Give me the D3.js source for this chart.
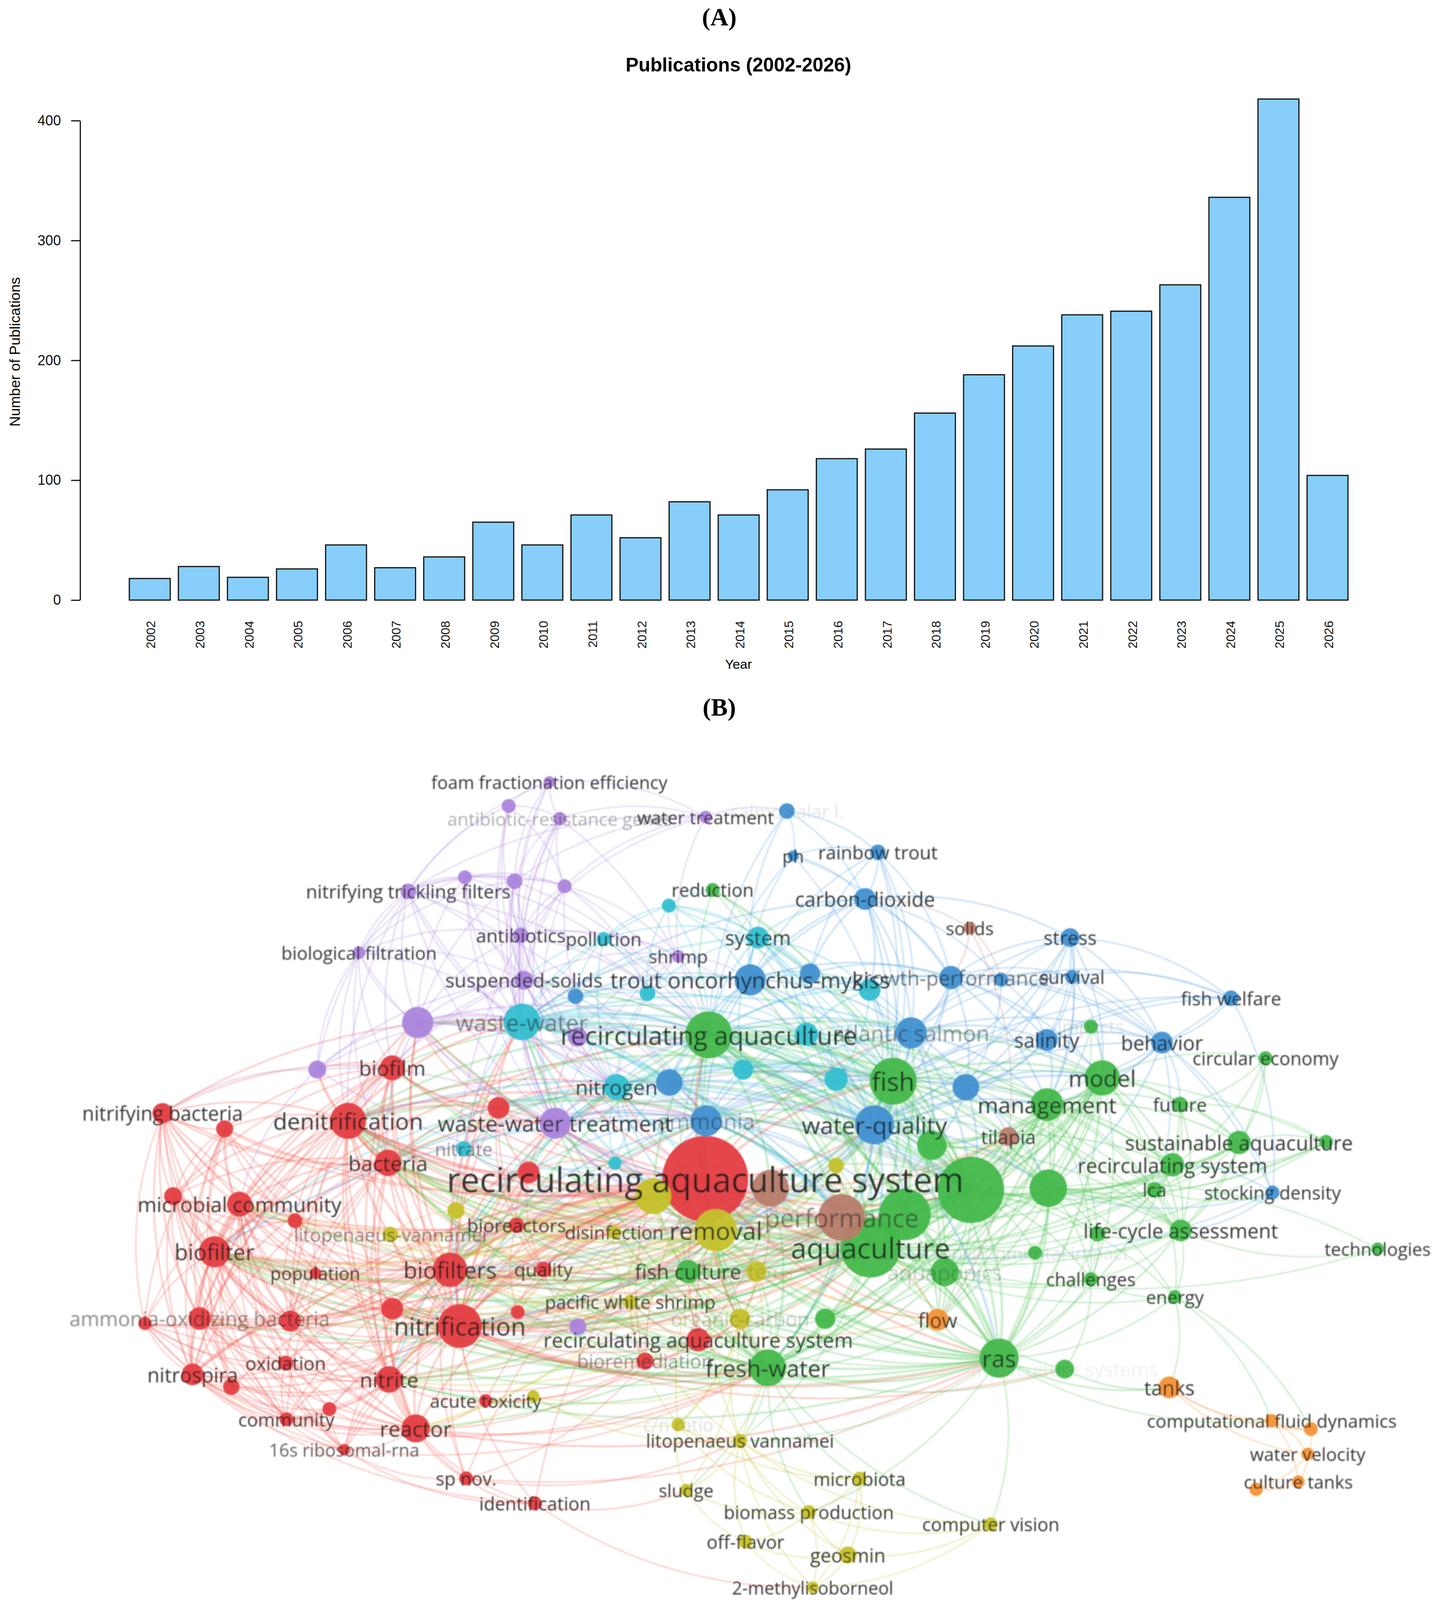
<!DOCTYPE html>
<html>
<head>
<meta charset="utf-8">
<script src="https://cdn.jsdelivr.net/npm/d3@7"></script>
<style>
	html, body { margin: 0; background: #fff; overflow: hidden; }
	svg { display: block; }
	.bar-axis text { font-family: "Liberation Sans", Arial, sans-serif; fill: #111; }
	.node-label { font-family: "Open Sans", sans-serif; fill: #1a1a1a; text-anchor: middle; dominant-baseline: central; }
</style>
</head>
<body>
<div id="chart"></div>
<script>
// panel A
var years = ["2002","2003","2004","2005","2006","2007","2008","2009","2010","2011","2012","2013","2014","2015","2016","2017","2018","2019","2020","2021","2022","2023","2024","2025","2026"];
var publications = [18,28,19,26,46,27,36,65,46,71,52,82,71,92,118,126,156,188,212,238,241,263,336,418,104];
var countTicks = [0,100,200,300,400];

// panel B: [id, label, map x, map y, occurrences]
var redNodes = [
	["rasys","recirculating aquaculture system",1805,3538,1210],
	["biofilm","biofilm",1004,3205,102],
	["nitbac","nitrifying bacteria",416,3341,68],
	["r1","",575,3388,48],
	["denit","denitrification",891,3364,212],
	["r2","",1276,3325,78],
	["bact","bacteria",993,3490,116],
	["r3","",1353,3519,78],
	["r4","",443,3590,53],
	["micro","microbial community",613,3614,102],
	["r5","",755,3664,36],
	["biofr","biofilter",549,3757,160],
	["bioreac","bioreactors",1322,3677,40],
	["popul","population",807,3821,22],
	["biofs","biofilters",1152,3811,194],
	["qual","quality",1391,3810,40],
	["r6","",1004,3928,78],
	["r7","",1325,3938,32],
	["nitrif","nitrification",1177,3980,314],
	["r8","",371,3972,29],
	["amox","ammonia-oxidizing bacteria",511,3957,84],
	["r9","",743,3965,73],
	["rasl","recirculating aquaculture system",1787,4021,90],
	["biorem","bioremediation",1651,4085,48],
	["oxid","oxidation",731,4091,36],
	["nspira","nitrospira",493,4125,78],
	["r10","",592,4162,44],
	["nitrite","nitrite",996,4140,116],
	["acute","acute toxicity",1243,4204,29],
	["r11","",843,4229,32],
	["commu","community",733,4260,32],
	["reactor","reactor",1064,4287,130],
	["rrna","16s ribosomal-rna",881,4351,22],
	["spnov","sp nov.",1193,4437,32],
	["ident","identification",1369,4512,32]
];
var purpleNodes = [
	["foam","foam fractionation efficiency",1406,2347,22],
	["p1","",1302,2419,32],
	["argenes","antibiotic-resistance genes",1433,2457,29],
	["wtreat","water treatment",1806,2452,26],
	["p2","",1190,2633,32],
	["p3","",1317,2645,40],
	["p4","",1445,2660,32],
	["ntf","nitrifying trickling filters",1045,2675,40],
	["antib","antibiotics",1333,2807,40],
	["biofilt","biological filtration",919,2859,26],
	["shrimp","shrimp",1736,2870,26],
	["ssol","suspended-solids",1341,2942,58],
	["p5","",1069,3069,160],
	["p6","",812,3210,53],
	["wwt","waste-water treatment",1421,3371,160],
	["p7","",1478,3112,62],
	["p8","",1479,3982,48]
];
var cyanNodes = [
	["ww","waste-water",1336,3067,221],
	["c1","",1712,2718,32],
	["pollu","pollution",1545,2818,32],
	["c2","",1657,2981,40],
	["nitro","nitrogen",1578,3262,109],
	["nitra","nitrate",1187,3448,40],
	["c3","",1574,3491,29],
	["syst","system",1940,2814,78],
	["c4","",2226,2971,78],
	["c5","",2064,3104,90],
	["c6","",1902,3210,68],
	["c7","",2140,3239,90]
];
var blueNodes = [
	["b1","",1473,2990,40],
	["b2","",1713,3249,116],
	["ammon","ammonia",1807,3364,160],
	["salar","salmo salar l.",2014,2434,40],
	["ph","ph",2030,2569,20],
	["rainb","rainbow trout",2247,2558,40],
	["co2","carbon-dioxide",2214,2698,78],
	["trout","trout oncorhynchus-mykiss",1920,2941,160],
	["b3","",2073,2922,68],
	["growth","growth-performance",2434,2934,90],
	["b4","",2562,2940,32],
	["surv","survival",2744,2932,32],
	["stress","stress",2739,2814,58],
	["welf","fish welfare",3151,2996,40],
	["atsal","atlantic salmon",2332,3100,160],
	["salin","salinity",2679,3121,78],
	["behav","behavior",2974,3129,78],
	["b5","",2472,3263,116],
	["wq","water-quality",2238,3376,250],
	["stock","stocking density",3257,3579,32]
];
var greenNodes = [
	["reduc","reduction",1824,2671,32],
	["rac","recirculating aquaculture",1814,3106,360],
	["fish","fish",2286,3245,360],
	["impacts","impacts",2792,3081,32],
	["model","model",2821,3235,202],
	["circ","circular economy",3239,3176,32],
	["mgmt","management",2680,3315,176],
	["future","future",3020,3315,40],
	["sust","sustainable aquaculture",3171,3429,90],
	["g1","",3394,3427,32],
	["recsys","recirculating system",3001,3496,90],
	["g2","",2385,3437,144],
	["g3","",2485,3571,722],
	["g4","",2683,3566,230],
	["lca","lca",2955,3571,40],
	["g5","",2316,3645,436],
	["aqua","aquaculture",2228,3744,593],
	["g8","",2809,3703,40],
	["lcaa","life-cycle assessment",3022,3693,78],
	["tech","technologies",3526,3748,26],
	["envi","environmental impact",2649,3760,32],
	["aquap","aquaponics",2418,3818,130],
	["chall","challenges",2792,3839,32],
	["energy","energy",3007,3892,29],
	["g6","",2112,3958,68],
	["rasn","ras",2557,4076,250],
	["g7","aquaculture systems",2725,4109,58],
	["fresh","fresh-water",1965,4105,221],
	["fculture","fish culture",1761,3816,90]
];
var yellowNodes = [
	["removal","removal",1832,3692,292],
	["y1","",1672,3590,212],
	["y2","",2140,3498,40],
	["y3","",1167,3633,48],
	["litov","litopenaeus-vannamei",999,3705,40],
	["disinf","disinfection",1572,3699,32],
	["pws","pacific white shrimp",1613,3907,32],
	["y4","systems",1936,3816,68],
	["orgc","organic-carbon",1894,3958,68],
	["y5","",1365,4191,26],
	["cn","c/n ratio",1736,4276,29],
	["litv","litopenaeus vannamei",1894,4324,32],
	["microb","microbiota",2200,4438,32],
	["sludge","sludge",1756,4472,26],
	["biomass","biomass production",2070,4538,32],
	["compv","computer vision",2536,4575,32],
	["off","off-flavor",1908,4627,32],
	["geos","geosmin",2170,4667,48],
	["mib","2-methylisoborneol",2080,4764,22]
];
var orangeNodes = [
	["flow","flow",2400,3961,78],
	["tanks","tanks",2993,4164,78],
	["cfd","computational fluid dynamics",3255,4264,29],
	["o1","",3355,4289,32],
	["wvel","water velocity",3347,4364,26],
	["ctanks","culture tanks",3323,4447,26],
	["o2","",3215,4470,29]
];
var brownNodes = [
	["solids","solids",2482,2785,26],
	["tilap","tilapia",2581,3411,58],
	["perf","performance",2154,3654,360],
	["br1","",1972,3566,221]
];

var clusterColors = {red:"#e43d42",purple:"#ab84dc",cyan:"#34bfd0",blue:"#4190d0",green:"#43b84b",yellow:"#c5c22c",orange:"#f39237",brown:"#b87c6c"};
var linkColors = {red:"#f0564c",purple:"#ab84dc",cyan:"#34bfd0",blue:"#4a9ade",green:"#4cc254",yellow:"#c5c22c",orange:"#f39237",brown:"#b87c6c"};

var redLinks = {
	rasys:"nitrif biofs denit bact biofr micro biofilm nitrite reactor amox nspira oxid qual bioreac popul r2 r3 r6 r7 r9 rasl biorem acute commu rrna spnov ident r4 r5 r1 nitbac r10 r11 r8 aqua fish removal perf wq rac g3 g5 rasn fresh ww nitro ammon y1 wwt p5 tilap flow atsal",
	nitrif:"biofs denit bact biofr micro biofilm nitrite reactor amox nspira oxid qual bioreac popul r2 r3 r6 r7 r9 r4 r5 r1 r8 nitbac r10 r11 commu rrna spnov acute ident biorem rasl removal y1 aqua wwt p5 ww ammon nitro g5 perf br1 fresh rasn pws y3 litov g7",
	biofs:"denit bact biofr micro biofilm nitrite reactor amox nspira oxid qual bioreac popul r6 r9 r5 r1 nitbac r4 r8 commu rrna spnov ww p5 wwt removal perf aqua",
	denit:"bact biofr micro biofilm nitrite reactor amox nspira nitbac r1 r2 r3 r4 r5 r6 r9 p5 p6 wwt ww nitro ammon nitra removal y1 y3 br1 bioreac qual popul",
	bact:"biofr micro biofilm nitrite reactor amox nspira nitbac r1 r2 r4 r5 r9 oxid commu p6 wwt",
	biofr:"micro biofilm nitrite reactor amox nspira nitbac r1 r4 r5 r6 r8 r9 r10 oxid commu popul rrna rac",
	micro:"biofilm nitrite reactor amox nspira nitbac r1 r4 r5 r6 r8 r9 r10 oxid commu rrna r11",
	biofilm:"nitrite amox nspira nitbac r1 r2 p5 p6 ww wwt r4 reactor r9",
	nitrite:"reactor amox nspira oxid commu rrna r6 r9 r10 r11 r8 acute spnov",
	amox:"nspira oxid commu rrna r1 r4 r8 r9 r10 nitbac r6 reactor",
	nspira:"oxid commu rrna r1 r4 r8 r9 r10 nitbac r11 reactor ident",
	reactor:"rrna commu oxid spnov ident r9 r6 acute r11 r10 rasn fresh",
	nitbac:"r1 r4 r8 r9 r5 ww commu rrna",
	r1:"r4 r5 r9 r8 r10",
	r2:"r3 wwt nitra ww y3 p5 nitro",
	r3:"nitra wwt y3 c3",
	r4:"oxid commu nitrite r9",
	r5:"r4 r9 popul",
	r6:"r7 r9 qual",
	r8:"nitrite oxid commu reactor rrna",
	r9:"popul",
	popul:"r4",
	qual:"r2 r3 bioreac disinf y1 r7",
	bioreac:"r2 r3 r6 r7 disinf popul y3",
	commu:"rrna r11 oxid r10 fresh",
	rrna:"spnov r11 oxid ident fresh",
	spnov:"ident biorem litv rasn",
	ident:"sludge mib",
	acute:"y5 biorem rasl",
	biorem:"y1 fresh orgc pws r6 reactor nitrite",
	rasl:"biorem pws removal aqua fresh orgc"
};
var purpleLinks = {
	foam:"argenes p1 p3 wtreat ntf antib ssol",
	p1:"ssol antib p4 ntf ww",
	argenes:"p1 p3 p4 wtreat antib ssol ww wwt rac",
	wtreat:"p3 p4 salar shrimp ntf antib",
	p2:"p3 ntf p4 biofilt ssol ww wwt p5 rac",
	p3:"p4 ntf antib ssol biofilt ww wwt p5 rac nitro",
	p4:"antib ssol ntf shrimp ww wwt rac nitro c2",
	ntf:"biofilt antib ssol p5 p6 ww wwt rac ammon nitro biofilm denit",
	antib:"shrimp ssol p5 ww p7 biofilt pollu wwt nitro rac nitrif",
	biofilt:"ssol p5 p6 denit biofilm wwt ww bact",
	shrimp:"ssol c1 pollu p7 trout ww wwt nitro rac wq",
	ssol:"p5 ww wwt p7 b1 nitro rac ammon denit biofilm nitrif rasys",
	p5:"ww wwt p6 p7 biofilm nitro rac ammon wq rasys denit nitrif biofs bact r2",
	p6:"wwt biofilm ww ssol rasys bact micro nitbac denit",
	wwt:"ww p7 nitro ammon rac fish removal aqua nitra perf y1 br1 wq g3",
	p7:"rac ww nitro",
	p8:"pws biofs rasl qual nitrif removal"
};
var cyanLinks = {
	ww:"rac fish aqua removal ammon nitro nitra wq b1 b2 c2 c3 c5 c6 c7 trout atsal pollu syst g3 perf",
	c1:"pollu syst c2 reduc trout shrimp b3 ww rac fish",
	pollu:"c2 ssol syst b1 ww rac nitro",
	c2:"syst trout ww rac c5 nitro",
	nitro:"ammon b2 nitra c3 c6 c7 rac fish removal aqua wq y1 g3 perf br1 biofs bact denit biofr nitrite r2 r3 ssol b1 c2 antib",
	nitra:"c3 removal y1 ammon",
	c3:"removal ammon b2",
	syst:"trout b3 co2 c4 c5 c6 c7 rac fish wq",
	c4:"trout b3 atsal growth c5 c7 rac fish",
	c5:"trout atsal c6 c7 rac fish b2 b5",
	c6:"c7 ammon rac fish wq b2",
	c7:"fish wq atsal rac aqua g3 g2"
};
var blueLinks = {
	b1:"trout ssol ww c2",
	b2:"ammon trout fish wq rac aqua",
	ammon:"wq fish rac aqua removal y1 y2 perf g3 g5 atsal denit bact biofs biofr nitrite r2 r3 ssol c6 c5 c7 b5 b1 trout",
	salar:"ph rainb wtreat co2 trout rac",
	ph:"rainb co2 trout rac fish growth",
	rainb:"co2 trout growth b3 wq atsal fish",
	co2:"trout b3 growth b4 atsal c4 wq stress rac fish ww",
	trout:"b3 atsal growth c4 wq fish rac",
	b3:"atsal growth",
	growth:"b4 surv stress atsal salin behav b5 fish wq rac mgmt model",
	b4:"surv stress atsal salin behav welf b5",
	surv:"stress salin behav welf atsal stock fish model mgmt",
	stress:"behav salin atsal fish wq model b5 mgmt",
	welf:"behav stock salin b5 fish wq stress",
	atsal:"salin behav b5 fish wq rac g3 g2 mgmt model",
	salin:"behav b5 model mgmt fish wq",
	behav:"model mgmt future lca stock wq g4",
	b5:"fish wq mgmt model g2 g3 g4 tilap",
	wq:"fish g2 g3 g5 aqua perf removal rac mgmt model tilap y2 g4 rasn fresh nitro ammon ww wwt trout atsal c7 c6 c5 c4 syst biofs denit nitrif",
	stock:"recsys lcaa aqua g4"
};
var greenLinks = {
	reduc:"rac syst fish aqua g3",
	rac:"fish aqua g3 g2 g4 g5 mgmt model removal perf rasn fresh y1 y2 br1 aquap lca tilap nitro ammon ww wwt p5 ssol trout syst c1 c2 c5 c6 c7 b1 b2 denit biofilm bact nitrif biofs atsal co2",
	fish:"aqua g2 g3 g4 g5 mgmt model perf removal rasn fresh aquap y2 tilap flow nitrif biofs denit bact trout atsal ammon nitro b2 c5 c6 c7 c4 syst y1",
	impacts:"model mgmt g4 salin",
	model:"mgmt g2 g3 g4 g5 aqua future lca lcaa rasn recsys sust chall tilap circ fresh perf flow aquap g6",
	circ:"lcaa sust future recsys",
	mgmt:"g2 g3 g4 g5 aqua future lca lcaa sust recsys rasn tilap g8 chall removal rac perf fresh flow aquap g6",
	future:"sust recsys lcaa lca g1",
	sust:"g1 recsys lca lcaa aqua g3 g4",
	g1:"recsys g3 g4 aqua fish",
	recsys:"lca lcaa g4 g3 aqua g8 rasn fish rac g2 g5",
	g2:"g3 g4 g5 aqua perf tilap",
	g3:"g4 g5 aqua perf lca lcaa g8 envi aquap chall energy rasn fresh flow g6 fculture biofs nitrif denit bact biofr qual r2 r3 trout atsal ssol syst reduc ammon nitro c7 c6 c5 b2 b5 removal y1 y2 wwt ww p5 br1",
	g4:"g5 aqua lca lcaa g8 envi aquap chall energy rasn tech tilap",
	lca:"lcaa g8 aqua stock energy",
	g5:"aqua perf aquap rasn fresh g6 fculture removal flow envi tilap",
	aqua:"perf removal aquap lcaa g8 envi chall energy tech rasn fresh g6 fculture flow y4 orgc y2 br1 g7 litv nitrif biofs denit bact biofr rasl r6 qual bioreac amox nitrite reactor micro biofilm p5 wwt ww nitro ammon trout atsal tilap y1",
	g8:"lcaa rasn chall",
	lcaa:"envi chall energy rasn tech fish rac g2 stock",
	envi:"aquap rasn",
	aquap:"rasn fresh flow g6 chall",
	chall:"rasn g7 energy",
	energy:"rasn tanks cfd o1",
	g6:"rasn fresh fculture orgc",
	rasn:"fresh fculture flow g7 tanks compv biomass litv cfd biofs denit biofr nitrite r6 y1 perf removal ammon pws orgc y4 br1",
	g7:"fresh tanks",
	fresh:"fculture removal perf br1 litv microb biomass sludge orgc y4 flow compv nitrif biofs denit bact biofr nitrite reactor qual r6 r7 r9 y1 ammon wwt ww pws disinf",
	fculture:"removal perf br1 y4 orgc pws nitrif biofs nitrite denit bact biofr rac fish wq"
};
var yellowLinks = {
	removal:"y1 perf br1 y2 y4 disinf pws orgc cn litv y3 litov bioreac biofs denit bact biofr nitrite micro reactor qual r6 r7 r9 rasl fresh aqua g3 ammon nitro fculture tilap",
	y1:"perf br1 disinf y3 litov pws bioreac biofs denit bact biofr nitrite r6 r7 r9 qual micro fresh aqua rac fculture orgc tilap",
	y2:"perf br1",
	y3:"litov bioreac",
	litov:"disinf pws",
	disinf:"pws orgc",
	pws:"orgc cn litv y4 nitrite reactor biofr denit bact r6 fish wq",
	y4:"orgc cn litv",
	orgc:"cn litv sludge biofs nitrite removal y1 fish aqua rasn",
	y5:"cn litv reactor fresh",
	cn:"litv sludge microb biomass",
	litv:"sludge microb biomass off mib geos compv fresh",
	microb:"biomass geos mib",
	sludge:"biomass off",
	biomass:"off geos mib compv",
	compv:"geos mib",
	off:"geos mib",
	geos:"mib"
};
var orangeLinks = {
	flow:"perf rasn g3 g5 aqua removal y1 fresh biofs",
	tanks:"cfd o1 rasn wvel",
	cfd:"o1 wvel ctanks energy",
	o1:"wvel energy",
	wvel:"ctanks o2",
	ctanks:"o2"
};
var brownLinks = {
	solids:"growth b4 co2 tilap",
	tilap:"perf br1 flow g3 g4 g5 g2 aqua rac fish removal y1",
	perf:"br1 aqua y2 nitrif biofs denit bact biofr nitrite qual r6 r9 fresh rasn flow fculture ammon rac wq",
	br1:"rasl orgc biofs denit bact biofr nitrite qual fresh pws disinf"
};

// labels that VOSviewer had faded out
var fadedLabels = {
	"antibiotic-resistance genes":0.35,"salmo salar l.":0.1,"waste-water":0.5,"atlantic salmon":0.45,"growth-performance":0.6,
	"nitrate":0.5,"litopenaeus-vannamei":0.5,"performance":0.5,"ammonia":0.4,"ammonia-oxidizing bacteria":0.5,"bioremediation":0.45,
	"16s ribosomal-rna":0.7,"organic-carbon":0.22,"aquaponics":0.22,"environmental impact":0.1,"aquaculture systems":0.06,
	"impacts":0.12,"c/n ratio":0.12,"systems":0.12
};

// the browser window tops out at less than the 4802 px asked for, so y positions
// are fitted to the real window height; text and circles keep their own proportions
var width = 3683, sourceHeight = 4802;
var height = Math.min(window.innerHeight || sourceHeight, sourceHeight);
var py = d3.scaleLinear().domain([0, sourceHeight]).range([0, height]);

var svg = d3.select("#chart").append("svg")
	.attr("width", width)
	.attr("height", height);

function panelLabel(text, y){
	svg.append("text")
		.attr("x", 1841)
		.attr("y", py(y))
		.attr("text-anchor", "middle")
		.style("font-family", '"Liberation Serif", serif')
		.style("font-weight", "bold")
		.style("font-size", "64px")
		.text(text);
}

function drawBars(){
	var x = d3.scaleBand().domain(years).range([320.5, 3460.5]).paddingInner(0.1667).paddingOuter(0.0833);
	var y = d3.scaleLinear().domain([0, 400]).range([py(1801), py(362)]);

	var g = svg.append("g");

	g.selectAll("rect")
			.data(publications)
		.enter().append("rect")
			.attr("x", function(d, i){ return x(years[i]); })
			.attr("y", function(d){ return y(d); })
			.attr("width", x.bandwidth())
			.attr("height", function(d){ return y(0) - y(d); })
			.style("fill", "#87cefa")
			.style("stroke", "#111")
			.style("stroke-width", 3);

	var yAxis = g.append("g")
		.attr("class", "bar-axis")
		.attr("transform", "translate(205,0)")
		.call(d3.axisLeft(y).tickValues(countTicks).tickSize(23).tickSizeOuter(0).tickPadding(26));
	yAxis.selectAll("path, line").style("stroke", "#111").style("stroke-width", 3);
	yAxis.selectAll("text").style("font-size", "36px");

	var xAxis = g.append("g")
		.attr("class", "bar-axis")
		.attr("transform", "translate(3," + y(0) + ")")
		.call(d3.axisBottom(x).tickSize(0));
	xAxis.select("path").remove();
	xAxis.selectAll("text")
		.attr("transform", "translate(0," + (py(1863) - y(0)) + ") rotate(-90)")
		.attr("x", 0)
		.attr("y", 0)
		.attr("dy", "0.35em")
		.style("text-anchor", "end")
		.style("font-size", "32px");

	g.append("text")
		.attr("x", 1890)
		.attr("y", py(215))
		.attr("text-anchor", "middle")
		.style("font-family", '"Liberation Sans", Arial, sans-serif')
		.style("font-weight", "bold")
		.style("font-size", "49.5px")
		.text("Publications (2002-2026)");

	g.append("text")
		.attr("x", 1890)
		.attr("y", py(2007))
		.attr("text-anchor", "middle")
		.style("font-family", '"Liberation Sans", Arial, sans-serif')
		.style("font-size", "34px")
		.text("Year");

	g.append("text")
		.attr("transform", "translate(51," + py(1056) + ") rotate(-90)")
		.attr("text-anchor", "middle")
		.style("font-family", '"Liberation Sans", Arial, sans-serif')
		.style("font-size", "37px")
		.text("Number of Publications");
}

function drawNetwork(){
	var groups = [
		["red", redNodes, redLinks],
		["purple", purpleNodes, purpleLinks],
		["cyan", cyanNodes, cyanLinks],
		["blue", blueNodes, blueLinks],
		["green", greenNodes, greenLinks],
		["yellow", yellowNodes, yellowLinks],
		["orange", orangeNodes, orangeLinks],
		["brown", brownNodes, brownLinks]
	];

	var nodes = [], byId = {};
	groups.forEach(function(group){
		group[1].forEach(function(n){
			var node = {id: n[0], label: n[1], x: n[2], y: n[3], weight: n[4], cluster: group[0]};
			nodes.push(node);
			byId[node.id] = node;
		});
	});

	var links = [], seen = {};
	groups.forEach(function(group){
		Object.keys(group[2]).forEach(function(source){
			group[2][source].split(" ").forEach(function(target){
				var key = [source, target].sort().join("|");
				if(seen[key] || !byId[target] || source === target) return;
				seen[key] = true;
				links.push({source: byId[source], target: byId[target], cluster: group[0]});
			});
		});
	});

	var mapX = d3.scaleLinear().domain([0, width]).range([0, width]);
	var mapY = py;
	var radius = d3.scaleSqrt().domain([0, 1210]).range([0, 110]);
	var linkWidth = d3.scaleSqrt().domain([20, 400]).range([3.5, 7.5]).clamp(true);
	var fontSize = d3.scaleLinear().domain([0, 110]).range([39, 87]);

	var defs = svg.append("defs");
	defs.append("filter").attr("id", "soft")
		.attr("x", "-2%").attr("y", "-2%").attr("width", "104%").attr("height", "104%")
		.append("feGaussianBlur").attr("stdDeviation", 1.4);

	var centre = [mapX(1900), mapY(3500)];

	function linkPath(d){
		var x0 = mapX(d.source.x), y0 = mapY(d.source.y);
		var x1 = mapX(d.target.x), y1 = mapY(d.target.y);
		var mx = (x0 + x1) / 2, my = (y0 + y1) / 2;
		var nx = -(y1 - y0) * 0.16, ny = (x1 - x0) * 0.16;
		if((mx - centre[0]) * nx + (my - centre[1]) * ny < 0){
			nx = -nx;
			ny = -ny;
		}
		return "M" + x0 + "," + y0 + "Q" + (mx + nx) + "," + (my + ny) + " " + x1 + "," + y1;
	}

	function strength(d){
		return Math.min(d.source.weight, d.target.weight);
	}

	var g = svg.append("g").attr("filter", "url(#soft)");

	g.append("g").selectAll("path")
			.data(links.sort(function(a, b){ return strength(a) - strength(b); }))
		.enter().append("path")
			.attr("d", linkPath)
			.style("fill", "none")
			.style("stroke", function(d){ return linkColors[d.cluster]; })
			.style("stroke-opacity", 0.28)
			.style("stroke-width", function(d){ return linkWidth(strength(d)); });

	g.append("g").selectAll("circle")
			.data(nodes)
		.enter().append("circle")
			.attr("cx", function(d){ return mapX(d.x); })
			.attr("cy", function(d){ return mapY(d.y); })
			.attr("r", function(d){ return radius(d.weight); })
			.style("fill", function(d){ return clusterColors[d.cluster]; })
			.style("fill-opacity", 0.95);

	g.append("g").selectAll("text")
			.data(nodes.filter(function(d){ return d.label; }))
		.enter().append("text")
			.attr("class", "node-label")
			.attr("x", function(d){ return mapX(d.x); })
			.attr("y", function(d){ return mapY(d.y); })
			.style("font-size", function(d){ return fontSize(radius(d.weight)) + "px"; })
			.style("fill-opacity", function(d){ return fadedLabels[d.label] || 0.88; })
			.text(function(d){ return d.label; });
}

panelLabel("(A)", 76);
drawBars();
panelLabel("(B)", 2148);
drawNetwork();
</script>
</body>
</html>
